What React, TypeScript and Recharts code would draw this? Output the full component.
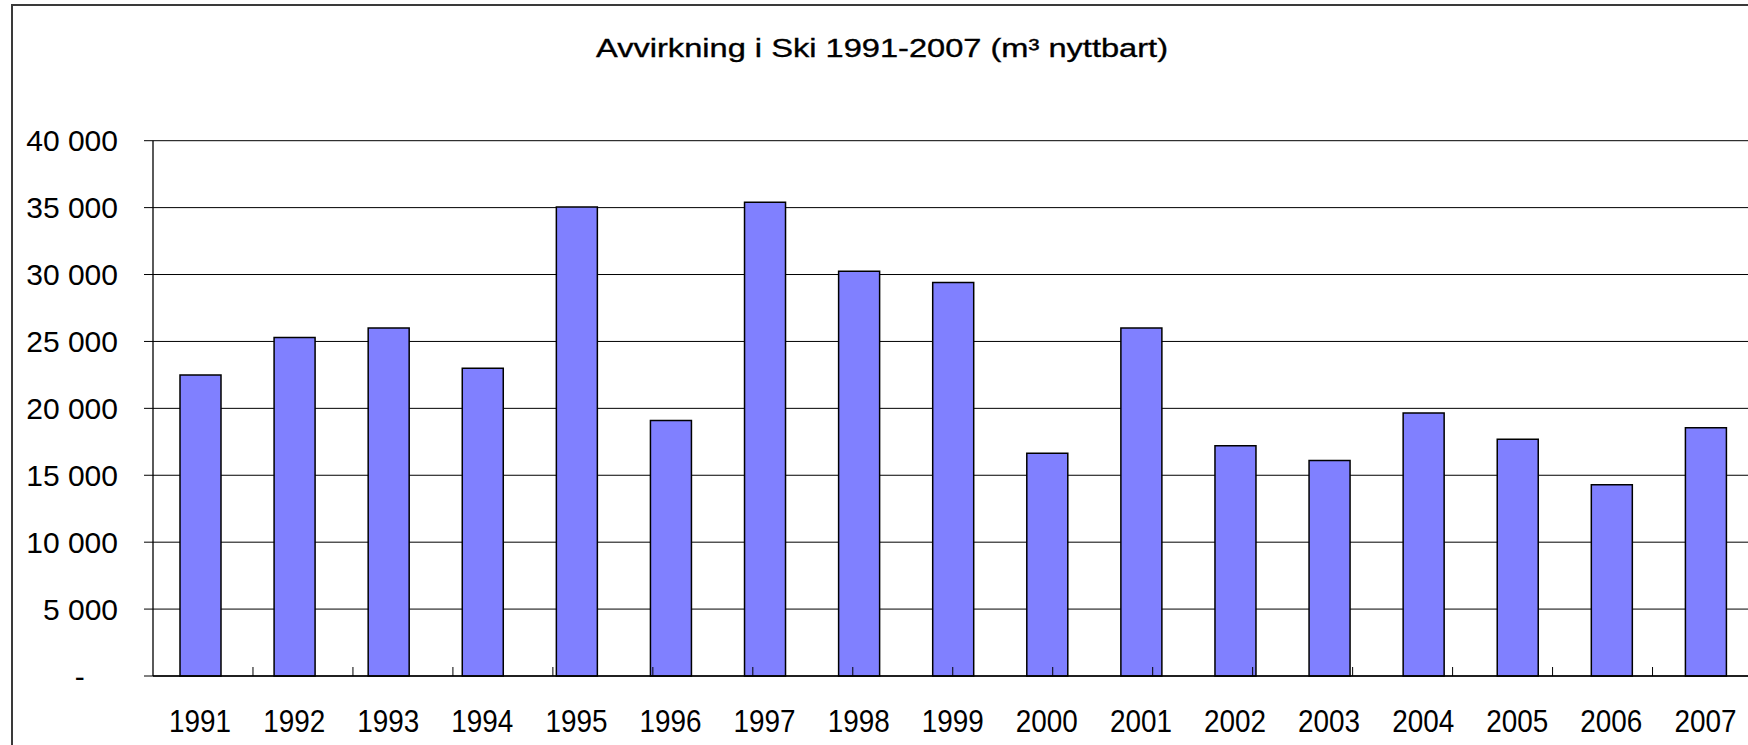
import React from 'react';
import { BarChart, Bar, XAxis, YAxis, CartesianGrid } from 'recharts';

const years: string[] = ['1991', '1992', '1993', '1994', '1995', '1996', '1997', '1998', '1999', '2000', '2001', '2002', '2003', '2004', '2005', '2006', '2007'];
const harvest: number[] = [22500, 25300, 26000, 23000, 35050, 19100, 35400, 30250, 29400, 16650, 26000, 17200, 16100, 19650, 17700, 14300, 18550];
const yTicks: number[] = [0, 5000, 10000, 15000, 20000, 25000, 30000, 35000, 40000];
const boundaryTicks: number[] = [1, 2, 3, 4, 5, 6, 7, 8, 9, 10, 11, 12, 13, 14, 15, 16];
const title = 'Avvirkning i Ski 1991-2007 (m³ nyttbart)';

const data = years.map((year, i) => ({ year, value: harvest[i] }));

const FONT = '"Liberation Sans", Arial, sans-serif';

const formatY = (v: number): string => {
  if (v === 0) return '-\u00A0\u00A0\u00A0\u00A0';
  return String(v).replace(/\B(?=(\d{3})+(?!\d))/g, ' ');
};

const XTick = (props: any) => {
  const { x, y, payload } = props;
  return (
    <text
      x={x}
      y={y}
      dy="0.71em"
      textAnchor="middle"
      fontSize={32}
      fontFamily={FONT}
      fill="#000"
      textLength={62}
      lengthAdjust="spacingAndGlyphs"
    >
      {payload.value}
    </text>
  );
};

const EmptyTick = () => <g />;

export default function App() {
  return (
    <div style={{ position: 'absolute', left: 0, top: 0, width: 1748, height: 745, overflow: 'hidden', background: '#fff' }}>
      <div
        style={{
          position: 'absolute',
          left: 11,
          top: 4,
          width: 2000,
          height: 2000,
          borderLeft: '2px solid #3a3a3a',
          borderTop: '2px solid #3a3a3a',
        }}
      />
      <svg width={1748} height={90} style={{ position: 'absolute', left: 0, top: 0 }}>
        <text
          x={882}
          y={56.5}
          textAnchor="middle"
          fontSize={26}
          fontFamily={FONT}
          fill="#000"
          stroke="#000"
          strokeWidth={0.35}
          textLength={572}
          lengthAdjust="spacingAndGlyphs"
        >
          {title}
        </text>
      </svg>
      <div style={{ position: 'absolute', left: 0, top: 0 }}>
        <BarChart
          width={1748}
          height={745}
          data={data}
          margin={{ top: 140.7, right: -4.5, bottom: 0, left: 0 }}
        >
          <CartesianGrid horizontal={true} vertical={false} stroke="#000" strokeWidth={1} />
          <XAxis
            xAxisId="edges"
            type="number"
            domain={[0, 17]}
            allowDataOverflow
            ticks={boundaryTicks}
            interval={0}
            height={1}
            mirror
            tick={EmptyTick}
            axisLine={false}
            tickLine={{ stroke: '#000', strokeWidth: 1 }}
            tickSize={9}
          />
          <XAxis
            xAxisId="cat"
            dataKey="year"
            height={69}
            axisLine={{ stroke: '#000', strokeWidth: 1.3 }}
            tickLine={false}
            tickSize={0}
            tickMargin={33}
            interval={0}
            tick={<XTick />}
          />
          <YAxis
            width={153}
            domain={[0, 40000]}
            ticks={yTicks}
            interval={0}
            tickFormatter={formatY}
            axisLine={{ stroke: '#000', strokeWidth: 1.3 }}
            tickLine={{ stroke: '#000', strokeWidth: 1 }}
            tickSize={9}
            tickMargin={26}
            tick={{ fontSize: 30, fontFamily: FONT, fill: '#000' }}
          />
          <Bar
            xAxisId="cat"
            dataKey="value"
            fill="#8080FF"
            stroke="#000"
            strokeWidth={1.5}
            barSize={41}
            isAnimationActive={false}
          />
        </BarChart>
      </div>
    </div>
  );
}
